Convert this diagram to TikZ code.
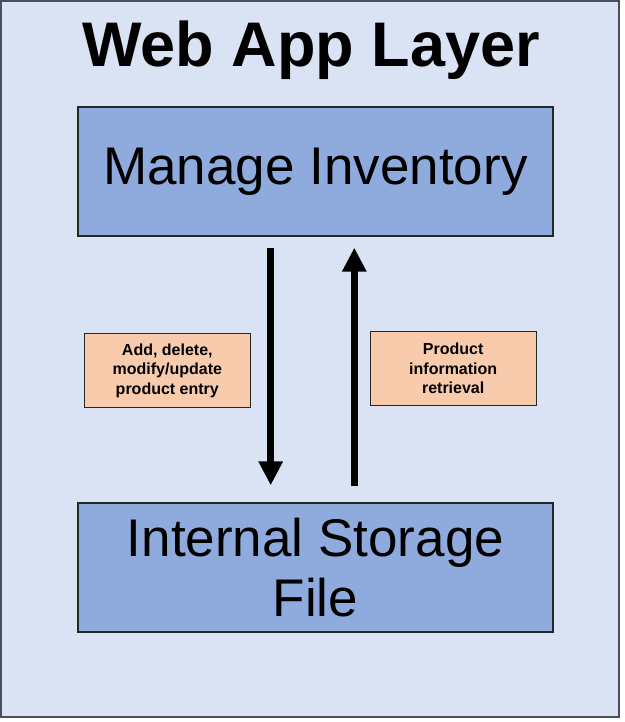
\documentclass[tikz,border=0pt]{standalone}
\usepackage{fontspec}
\setmainfont{Liberation Sans}
\usetikzlibrary{arrows.meta,calc}
\definecolor{bgblue}{HTML}{DAE3F3}
\definecolor{boxblue}{HTML}{8FAADC}
\definecolor{lblorange}{HTML}{F8CBAD}
\definecolor{framegrey}{HTML}{4A4F5A}
\tikzset{
  layerframe/.style={draw=framegrey,line width=1.6pt,fill=bgblue},
  mainbox/.style={draw=black!85,line width=1.3pt,fill=boxblue,rectangle,
    minimum width=475pt,minimum height=129pt,inner sep=0pt,align=center,
    font=\fontsize{53}{60}\selectfont},
  labelbox/.style={draw=black!85,line width=1.1pt,fill=lblorange,rectangle,
    minimum width=166pt,minimum height=74pt,inner sep=0pt,align=center,
    font=\bfseries\fontsize{16}{19.5}\selectfont},
  bigarrow/.style={line width=7.5pt,-{Triangle[length=24pt,width=23pt]}},
  titletext/.style={font=\bfseries\fontsize{63}{70}\selectfont,inner sep=0pt}
}
\begin{document}
\begin{tikzpicture}[x=1pt,y=-1pt]
\useasboundingbox (0,0) rectangle (624,722);
\fill[white] (0,0) rectangle (624,722);
\draw[layerframe] (0.8,0.8) rectangle (619,717);
\node[titletext,anchor=base] (title) at (311,67) {Web App Layer};
\node[mainbox] (mi) at (315.5,171.5) {Manage Inventory};
\node[mainbox] (st) at (315.5,567.5) {Internal Storage\\File};
\node[labelbox] (lblL) at (167.3,370.5) {Add, delete,\\modify/update\\product entry};
\node[labelbox] (lblR) at (453.2,368.3) {Product\\information\\retrieval};
\draw[bigarrow] ([shift={(-44.8,11)}]mi.south) -- ([shift={(-44.8,-17)}]st.north);
\draw[bigarrow] ([shift={(38.8,-16)}]st.north) -- ([shift={(38.8,11)}]mi.south);
\end{tikzpicture}
\end{document}
